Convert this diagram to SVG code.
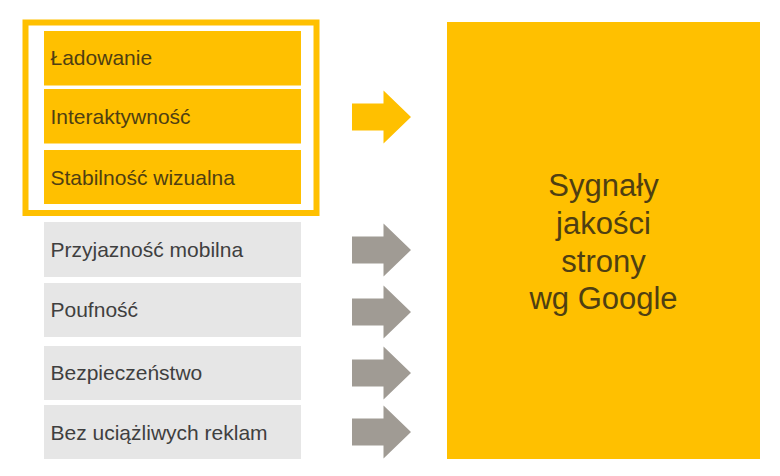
<svg xmlns="http://www.w3.org/2000/svg" width="780" height="476" viewBox="0 0 780 476">
<style>
.y{fill:#FFC000}
.g{fill:#E6E6E6}
.ag{fill:#A09B94}
.ty{font-family:"Liberation Sans",Arial,sans-serif;font-size:21px;fill:#4F3F12}
.tg{font-family:"Liberation Sans",Arial,sans-serif;font-size:21px;fill:#3F3F3F}
.tb{font-family:"Liberation Sans",Arial,sans-serif;font-size:31px;fill:#4F3F12;text-anchor:middle}
</style>
<defs>
<path id="arrow" d="M0,-13.5 H31.5 V-26.5 L59,0 L31.5,26.5 V13.5 H0 Z"/>
</defs>
<rect width="780" height="476" fill="#FFFFFF"/>
<g id="frame">
<rect x="25.5" y="22.5" width="291" height="190.5" fill="none" stroke="#FFC000" stroke-width="6"/>
</g>
<g id="n-ladowanie"><rect class="y" x="44" y="31" width="257" height="54.5"/><text class="ty" x="50.5" y="64.5">Ładowanie</text></g>
<g id="n-interaktywnosc"><rect class="y" x="44" y="89" width="257" height="54.5"/><text class="ty" x="50.5" y="124">Interaktywność</text></g>
<g id="n-stabilnosc"><rect class="y" x="44" y="150" width="257" height="54"/><text class="ty" x="50.5" y="184.5">Stabilność wizualna</text></g>
<g id="n-przyjaznosc"><rect class="g" x="44" y="222" width="257" height="55"/><text class="tg" x="50.5" y="256.5">Przyjazność mobilna</text></g>
<g id="n-poufnosc"><rect class="g" x="44" y="283" width="257" height="54"/><text class="tg" x="50.5" y="317">Poufność</text></g>
<g id="n-bezpieczenstwo"><rect class="g" x="44" y="346" width="257" height="54"/><text class="tg" x="50.5" y="379.5">Bezpieczeństwo</text></g>
<g id="n-reklamy"><rect class="g" x="44" y="405" width="257" height="54"/><text class="tg" x="50.5" y="440">Bez uciążliwych reklam</text></g>
<g id="n-sygnaly"><rect class="y" x="447" y="22" width="313" height="437"/>
<text class="tb" x="603.5" y="196">Sygnały</text>
<text class="tb" x="603.5" y="233.5">jakości</text>
<text class="tb" x="603.5" y="271.5">strony</text>
<text class="tb" x="603.5" y="309">wg Google</text>
</g>
<g id="connectors">
<use href="#arrow" x="352" y="117" class="y"/>
<use href="#arrow" x="352" y="250" class="ag"/>
<use href="#arrow" x="352" y="312" class="ag"/>
<use href="#arrow" x="352" y="373" class="ag"/>
<use href="#arrow" x="352" y="432" class="ag"/>
</g>
</svg>
